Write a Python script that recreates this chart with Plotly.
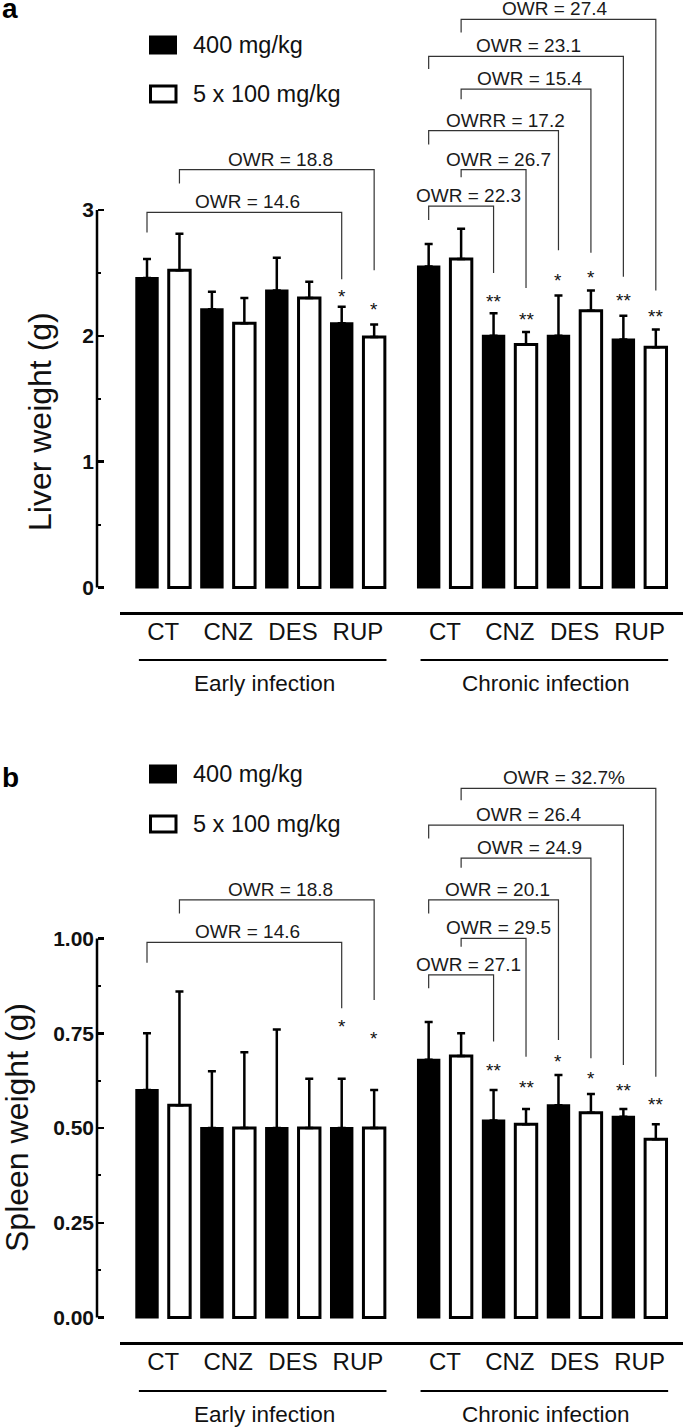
import plotly.graph_objects as go

# ------------------------------------------------------------------ data
treatments = ["CT", "CNZ", "DES", "RUP"]
groups = ["Early infection", "Chronic infection"]
doses = ["400 mg/kg", "5 x 100 mg/kg"]

liver_early_400 = [2.46, 2.21, 2.36, 2.10]
liver_early_400_err = [0.15, 0.14, 0.26, 0.13]
liver_early_5x100 = [2.52, 2.10, 2.30, 1.99]
liver_early_5x100_err = [0.29, 0.20, 0.13, 0.10]
liver_chronic_400 = [2.55, 2.00, 2.00, 1.97]
liver_chronic_400_err = [0.18, 0.18, 0.32, 0.19]
liver_chronic_5x100 = [2.61, 1.93, 2.20, 1.91]
liver_chronic_5x100_err = [0.24, 0.10, 0.16, 0.14]

spleen_early_400 = [0.60, 0.50, 0.50, 0.50]
spleen_early_400_err = [0.15, 0.15, 0.26, 0.13]
spleen_early_5x100 = [0.56, 0.50, 0.50, 0.50]
spleen_early_5x100_err = [0.30, 0.20, 0.13, 0.10]
spleen_chronic_400 = [0.68, 0.52, 0.56, 0.53]
spleen_chronic_400_err = [0.10, 0.08, 0.08, 0.02]
spleen_chronic_5x100 = [0.69, 0.51, 0.54, 0.47]
spleen_chronic_5x100_err = [0.06, 0.04, 0.05, 0.04]

liver_ticks = [0, 1, 2, 3]
spleen_ticks = [0.00, 0.25, 0.50, 0.75, 1.00]

# significance marks: (group, treatment, dose, mark, height)
liver_marks = [(0, 3, 0, "*", 2.35), (0, 3, 1, "*", 2.245),
               (1, 1, 0, "**", 2.31), (1, 1, 1, "**", 2.17),
               (1, 2, 0, "*", 2.48), (1, 2, 1, "*", 2.50),
               (1, 3, 0, "**", 2.32), (1, 3, 1, "**", 2.19)]
spleen_marks = [(0, 3, 0, "*", 0.780), (0, 3, 1, "*", 0.750),
                (1, 1, 0, "**", 0.666), (1, 1, 1, "**", 0.620),
                (1, 2, 0, "*", 0.688), (1, 2, 1, "*", 0.644),
                (1, 3, 0, "**", 0.613), (1, 3, 1, "**", 0.576)]

# OWR brackets: (group, from bar, to bar, label, level, left end, right end, label shift)
liver_brackets = [
    (0, 0, 6, "OWR = 14.6", 2.98, 2.82, 2.45, 0.11),
    (0, 1, 7, "OWR = 18.8", 3.32, 3.21, 2.52, 0.10),
    (1, 0, 2, "OWR = 22.3", 3.03, 2.92, 2.50, 0.23),
    (1, 1, 3, "OWR = 26.7", 3.32, 3.26, 2.38, 0.15),
    (1, 0, 4, "OWRR = 17.2", 3.63, 3.52, 2.68, 0.37),
    (1, 1, 5, "OWR = 15.4", 3.96, 3.88, 2.66, 0.12),
    (1, 0, 6, "OWR = 23.1", 4.22, 4.12, 2.47, 0.09),
    (1, 1, 7, "OWR = 27.4", 4.515, 4.41, 2.36, -0.11),
]
spleen_brackets = [
    (0, 0, 6, "OWR = 14.6", 0.990, 0.936, 0.816, 0.11),
    (0, 1, 7, "OWR = 18.8", 1.102, 1.066, 0.838, 0.10),
    (1, 0, 2, "OWR = 27.1", 0.904, 0.869, 0.728, 0.22),
    (1, 1, 3, "OWR = 29.5", 1.0005, 0.978, 0.688, 0.15),
    (1, 0, 4, "OWR = 20.1", 1.102, 1.066, 0.732, 0.12),
    (1, 1, 5, "OWR = 24.9", 1.212, 1.187, 0.684, 0.12),
    (1, 0, 6, "OWR = 26.4", 1.299, 1.264, 0.666, 0.09),
    (1, 1, 7, "OWR = 32.7%", 1.396, 1.365, 0.635, 0.16),
]

# ------------------------------------------------------------------ layout helpers
W, H = 685, 1427
FONT = "Liberation Sans, Arial, sans-serif"
group_start = [0.0, 8.68]          # bar-slot offset of each group on the x scale
BARW = 0.66


def bar_x(g, t, d):
    return group_start[g] + 2 * t + d


def bar_index_x(g, k):
    return group_start[g] + k


def px_y(p):          # pixel row -> paper y
    return 1 - p / H


def px_x(p):          # pixel column -> paper x
    return p / W


# x scale: slot 0 centred at pixel 147, 32.45 px per slot
X0, XS = 147.0, 32.45
xdom = [120 / W, 683 / W]
xrange_ = [(120 - X0) / XS, (683 - X0) / XS]

panels = [
    dict(name="a", zero=587.5, unit=125.85, top=0, bottom=713, axis=613,
         under=660, glab=683, title="Liver weight (g)", title_x=40, title_y=422,
         label_y=8, leg_y=(45, 94), ticks=liver_ticks, minor=[0.5, 1.5, 2.5],
         fmt="d", ymax=3,
         data=[(liver_early_400, liver_early_400_err, liver_early_5x100, liver_early_5x100_err),
               (liver_chronic_400, liver_chronic_400_err, liver_chronic_5x100, liver_chronic_5x100_err)],
         marks=liver_marks, brackets=liver_brackets),
    dict(name="b", zero=1317.5, unit=379.0, top=713, bottom=1427, axis=1343,
         under=1391, glab=1414, title="Spleen weight (g)", title_x=17, title_y=1128,
         label_y=777, leg_y=(774, 824), ticks=spleen_ticks,
         minor=[0.125, 0.375, 0.625, 0.875], fmt=".2f", ymax=1.0,
         data=[(spleen_early_400, spleen_early_400_err, spleen_early_5x100, spleen_early_5x100_err),
               (spleen_chronic_400, spleen_chronic_400_err, spleen_chronic_5x100, spleen_chronic_5x100_err)],
         marks=spleen_marks, brackets=spleen_brackets),
]

fig = go.Figure()
shapes, annotations = [], []
layout_axes = {}

for i, P in enumerate(panels):
    sfx = "" if i == 0 else str(i + 1)
    xa, ya = "x" + sfx, "y" + sfx

    # bars
    for d, (fill, lw) in enumerate([("black", 2), ("white", 3)]):
        xs, ys, es = [], [], []
        for g in range(2):
            vals = P["data"][g][2 * d]
            errs = P["data"][g][2 * d + 1]
            for t in range(len(treatments)):
                xs.append(bar_x(g, t, d))
                ys.append(vals[t])
                es.append(errs[t])
        fig.add_trace(go.Bar(
            x=xs, y=ys, width=BARW, name=doses[d], xaxis=xa, yaxis=ya,
            marker=dict(color=fill, line=dict(color="black", width=lw)),
            error_y=dict(type="data", symmetric=False, array=es,
                         arrayminus=[0] * len(es), width=4, thickness=2.5,
                         color="black"),
            showlegend=False, hoverinfo="skip"))

    # significance marks
    for g, t, d, m, yv in P["marks"]:
        annotations.append(dict(x=bar_x(g, t, d), y=yv, xref=xa, yref=ya,
                                text=m, showarrow=False, yshift=-5,
                                font=dict(family=FONT, size=19, color="#111")))

    # brackets
    for g, k0, k1, lab, lev, yl, yr, shift in P["brackets"]:
        x0, x1 = bar_index_x(g, k0), bar_index_x(g, k1)
        shapes.append(dict(type="path", xref=xa, yref=ya,
                           path=f"M {x0},{yl} L {x0},{lev} L {x1},{lev} L {x1},{yr}",
                           line=dict(color="#333", width=1.2)))
        annotations.append(dict(x=(x0 + x1) / 2 + shift, y=lev, xref=xa, yref=ya,
                                text=lab, showarrow=False, yshift=10.5,
                                yanchor="middle",
                                font=dict(family=FONT, size=19, color="#1a1a1a")))

    # group underline + label
    for g in range(2):
        xa0 = bar_index_x(g, 0) - 0.25
        xa1 = bar_index_x(g, 7) + 0.38
        shapes.append(dict(type="line", xref=xa, yref="paper", x0=xa0, x1=xa1,
                           y0=px_y(P["under"]), y1=px_y(P["under"]),
                           line=dict(color="black", width=2.2)))
        annotations.append(dict(x=(xa0 + xa1) / 2 + 0.05, y=px_y(P["glab"]),
                                xref=xa, yref="paper", text=groups[g],
                                showarrow=False, yanchor="middle",
                                font=dict(family=FONT, size=22.5, color="#111")))

    # y spine
    shapes.append(dict(type="line", xref="paper", yref=ya, x0=px_x(97), x1=px_x(97),
                       y0=0, y1=P["ymax"], line=dict(color="black", width=2.5)))

    # legend
    ly_black, ly_white = P["leg_y"]
    shapes.append(dict(type="rect", xref="paper", yref="paper",
                       x0=px_x(150), x1=px_x(176), y0=px_y(ly_black - 8.5), y1=px_y(ly_black + 8.5),
                       fillcolor="black", line=dict(color="black", width=2)))
    shapes.append(dict(type="rect", xref="paper", yref="paper",
                       x0=px_x(150.5), x1=px_x(176), y0=px_y(ly_white - 8), y1=px_y(ly_white + 8),
                       fillcolor="white", line=dict(color="black", width=3)))
    for lyv, txt in [(ly_black, doses[0]), (ly_white, doses[1])]:
        annotations.append(dict(x=px_x(191), y=px_y(lyv), xref="paper", yref="paper",
                                text=txt, showarrow=False, xanchor="left", yanchor="middle",
                                font=dict(family=FONT, size=23.5, color="#111")))

    # panel letter
    annotations.append(dict(x=px_x(0), y=px_y(P["label_y"]), xref="paper", yref="paper",
                            text=P["name"], showarrow=False, xanchor="left", yanchor="middle",
                            font=dict(family=FONT, size=28, color="black", weight="bold")))
    # y title
    annotations.append(dict(x=px_x(P["title_x"]), y=px_y(P["title_y"]), xref="paper",
                            yref="paper", text=P["title"], showarrow=False, textangle=-90,
                            xanchor="center", yanchor="middle",
                            font=dict(family=FONT, size=32, color="#111")))

    # axes
    ydom = [px_y(P["bottom"]), px_y(P["top"])]
    yr = [(P["zero"] - P["bottom"]) / P["unit"], (P["zero"] - P["top"]) / P["unit"]]
    tickvals_x = []
    ticktext_x = []
    for g in range(2):
        for t, name in enumerate(treatments):
            tickvals_x.append(bar_x(g, t, 0) + 0.5)
            ticktext_x.append(name)
    layout_axes["xaxis" + sfx] = dict(
        domain=xdom, range=xrange_, anchor="free", position=px_y(P["axis"]),
        showline=True, linecolor="black", linewidth=2.5, showgrid=False,
        zeroline=False, ticks="", tickvals=tickvals_x, ticktext=ticktext_x,
        ticklabelstandoff=-3, tickfont=dict(family=FONT, size=24, color="#111"),
        fixedrange=True)
    layout_axes["yaxis" + sfx] = dict(
        domain=ydom, range=yr, anchor="free", position=px_x(97), side="left",
        showline=False, showgrid=False, zeroline=False,
        tickvals=P["ticks"], tickformat=P["fmt"], ticks="inside", ticklen=6,
        tickwidth=2.5, tickcolor="black", ticklabelstandoff=3,
        tickfont=dict(family=FONT, size=21, color="#111", weight="bold"),
        minor=dict(tickvals=P["minor"], ticks="inside", ticklen=3, tickwidth=2,
                   tickcolor="black"),
        fixedrange=True)

fig.update_layout(
    width=W, height=H, margin=dict(l=0, r=0, t=0, b=0),
    paper_bgcolor="white", plot_bgcolor="white", showlegend=False,
    barmode="overlay", shapes=shapes, annotations=annotations, **layout_axes)

fig.write_html(
    "out.html",
    config={"displayModeBar": False, "staticPlot": True},
    post_script="document.body.style.margin='0';document.body.style.padding='0';"
                "document.body.style.overflow='hidden';")
